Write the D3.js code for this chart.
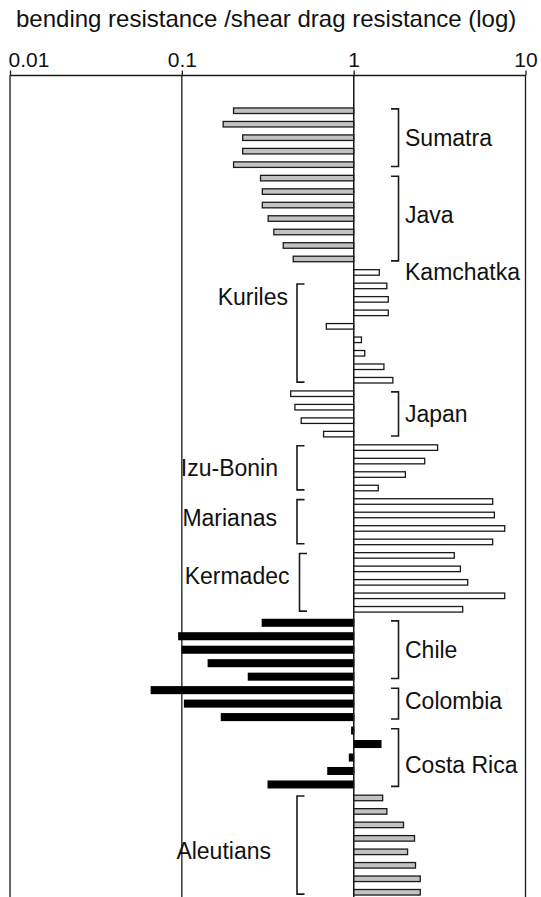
<!DOCTYPE html>
<html>
<head>
<meta charset="utf-8">
<script src="https://cdn.jsdelivr.net/npm/d3@7"></script>
<style>
  body { margin: 0; background: #fff; }
  svg { display: block; }
  text { font-family: "Liberation Sans", Arial, Helvetica, sans-serif; fill: #111; }
</style>
</head>
<body>
<svg id="chart" width="541" height="897"></svg>
<script>
// Ratio of bending resistance to shear drag resistance, one bar per profile,
// grouped by subduction zone (top to bottom).
const sumatra   = [0.20, 0.174, 0.226, 0.226, 0.20];
const java      = [0.287, 0.294, 0.294, 0.318, 0.343, 0.389, 0.445];
const kamchatka = [1.41];
const kuriles   = [1.56, 1.59, 1.59, 0.693, 1.11, 1.16, 1.50, 1.69];
const japan     = [0.43, 0.455, 0.495, 0.668];
const izuBonin  = [3.08, 2.59, 2.0, 1.39];
const marianas  = [6.44, 6.59, 7.57, 6.44];
const kermadec  = [3.85, 4.18, 4.61, 7.57, 4.31];
const chile     = [0.294, 0.096, 0.1006, 0.1425, 0.244];
const colombia  = [0.0664, 0.1037, 0.170];
const costaRica = [0.975, 1.44, 0.945, 0.708, 0.318];
const aleutians = [1.475, 1.56, 1.95, 2.26, 2.06, 2.29, 2.44, 2.44];

const tickValues = [0.01, 0.1, 1, 10];
const tickLabels = ["0.01", "0.1", "1", "10"];
const axisTitle = "bending resistance /shear drag resistance (log)";

// zone name, its bars, bar shading class, which side the bracket sits on
const regions = [
  { name: "Sumatra",    values: sumatra,   shade: "gray",  side: "right" },
  { name: "Java",       values: java,      shade: "gray",  side: "right" },
  { name: "Kamchatka",  values: kamchatka, shade: "white", side: "none"  },
  { name: "Kuriles",    values: kuriles,   shade: "white", side: "left"  },
  { name: "Japan",      values: japan,     shade: "white", side: "right" },
  { name: "Izu-Bonin",  values: izuBonin,  shade: "white", side: "left"  },
  { name: "Marianas",   values: marianas,  shade: "white", side: "left"  },
  { name: "Kermadec",   values: kermadec,  shade: "white", side: "left"  },
  { name: "Chile",      values: chile,     shade: "black", side: "right" },
  { name: "Colombia",   values: colombia,  shade: "black", side: "right" },
  { name: "Costa Rica", values: costaRica, shade: "black", side: "right" },
  { name: "Aleutians",  values: aleutians, shade: "gray",  side: "left"  }
];

// ---- drawing ----
const fills = { gray: "#c2c2c2", white: "#ffffff", black: "#000000" };
const ink = "#1a1a1a";

// flatten to one row per bar
const rows = [];
regions.forEach(r => r.values.forEach(v => rows.push({ region: r, value: v })));
rows.forEach((d, i) => d.i = i);

const svg = d3.select("#chart");
const W = 541, H = 897;

const x = d3.scaleLog().domain([0.01, 10]).range([10, 525.5]);
const y = d3.scaleBand()
  .domain(d3.range(rows.length))
  .range([104, 899])
  .paddingInner(0.5)
  .paddingOuter(0.25);
const bw = y.bandwidth();
const axisY = 75;

// title
svg.append("text")
  .attr("x", 16).attr("y", 27)
  .attr("font-size", 24)
  .text(axisTitle);

// vertical grid lines at each decade
svg.append("g")
  .selectAll("line")
  .data(tickValues)
  .join("line")
  .attr("x1", d => x(d)).attr("x2", d => x(d))
  .attr("y1", axisY).attr("y2", H)
  .attr("stroke", ink).attr("stroke-width", 1.3);

// top axis
const axis = d3.axisTop(x)
  .tickValues(tickValues)
  .tickFormat((d, i) => tickLabels[i])
  .tickSizeInner(4.5)
  .tickSizeOuter(0)
  .tickPadding(3.8);
const gAxis = svg.append("g").attr("transform", `translate(0,${axisY})`).call(axis);
gAxis.select(".domain").attr("stroke", ink).attr("stroke-width", 1.3);
gAxis.selectAll(".tick line").attr("stroke", ink).attr("stroke-width", 1.3);
gAxis.selectAll(".tick text")
  .attr("font-size", 21)
  .attr("font-family", "'Liberation Sans', Arial, Helvetica, sans-serif")
  .attr("fill", "#111")
  .attr("text-anchor", (d, i) => i === 0 ? "start" : "middle")
  .attr("x", (d, i) => i === 0 ? -2 : 0);

// bars grow from 1 toward their value
svg.append("g")
  .selectAll("rect")
  .data(rows)
  .join("rect")
  .attr("x", d => Math.min(x(d.value), x(1)))
  .attr("width", d => Math.abs(x(d.value) - x(1)))
  .attr("y", d => y(d.i) + (d.region.shade === "black" ? 0 : 0.6))
  .attr("height", d => d.region.shade === "black" ? bw : bw - 1.2)
  .attr("fill", d => fills[d.region.shade])
  .attr("stroke", d => d.region.shade === "black" ? "#000" : ink)
  .attr("stroke-width", 1.3);

// redraw the unit line over the bar bases
svg.append("line")
  .attr("x1", x(1)).attr("x2", x(1))
  .attr("y1", axisY).attr("y2", H)
  .attr("stroke", ink).attr("stroke-width", 1.3);

// zone brackets and names
const rightX = 398.5, leftX = 297, tick = 7.5;
const labelNudge = {
  "Java": { dy: -3.5 },
  "Colombia": { dy: -3 },
  "Costa Rica": { dy: 7.5 },
  "Kuriles": { top: 13 },
  "Izu-Bonin": { dx: -10 },
  "Marianas": { dx: -11, dy: -4 },
  "Kermadec": { dx: 1.5, bx: 2.5, dy: -6.5 },
  "Aleutians": { dx: -17, dy: 5.5 }
};

const gB = svg.append("g");
let start = 0;
regions.forEach(r => {
  const first = start, last = start + r.values.length - 1;
  start += r.values.length;
  const nudge = labelNudge[r.name] || {};
  const top = y(first) + 1.5, bot = y(last) + bw - 1.5;
  let cy = (top + bot) / 2;
  if (nudge.top !== undefined) cy = top + nudge.top;
  cy += nudge.dy || 0;

  if (r.side === "right") {
    gB.append("path")
      .attr("d", `M${rightX - tick},${top}H${rightX}V${bot}H${rightX - tick}`)
      .attr("fill", "none").attr("stroke", ink).attr("stroke-width", 1.6);
    gB.append("text")
      .attr("x", rightX + 6.5).attr("y", cy).attr("dy", "0.35em")
      .attr("font-size", 23).text(r.name);
  } else if (r.side === "left") {
    const bx = leftX + (nudge.bx || 0);
    gB.append("path")
      .attr("d", `M${bx + tick},${top}H${bx}V${bot}H${bx + tick}`)
      .attr("fill", "none").attr("stroke", ink).attr("stroke-width", 1.6);
    gB.append("text")
      .attr("x", leftX - 9 + (nudge.dx || 0)).attr("y", cy).attr("dy", "0.35em")
      .attr("text-anchor", "end")
      .attr("font-size", 23).text(r.name);
  } else {
    gB.append("text")
      .attr("x", rightX + 6.5).attr("y", y(first) + bw / 2).attr("dy", "0.35em")
      .attr("font-size", 23).text(r.name);
  }
});
</script>
</body>
</html>
